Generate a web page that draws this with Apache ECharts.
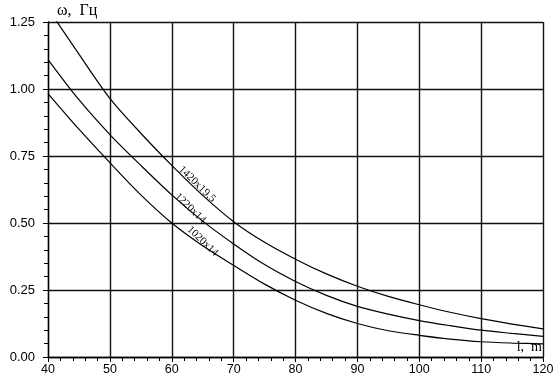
<!DOCTYPE html>
<html><head><meta charset="utf-8">
<script src="https://cdn.jsdelivr.net/npm/echarts@6/dist/echarts.min.js"></script>
<style>html,body{margin:0;padding:0;background:#fff}#c{width:558px;height:378px}</style>
</head><body><div id="c"></div>
<script>
const xTicks = [40, 50, 60, 70, 80, 90, 100, 110, 120];
const yTicks = [0, 0.25, 0.5, 0.75, 1.0, 1.25];
const names = ['1420x19,5', '1220x14', '1020x14'];
const xs = [40, 45, 50, 55, 60, 65, 70, 75, 80, 85, 90, 95, 100, 105, 110, 115, 120];
const ys1 = [1.30, 1.13, 0.965, 0.835, 0.715, 0.603, 0.505, 0.428, 0.365, 0.31, 0.264, 0.226, 0.195, 0.167, 0.143, 0.123, 0.105];
const ys2 = [1.11, 0.96, 0.83, 0.715, 0.605, 0.507, 0.422, 0.345, 0.282, 0.23, 0.189, 0.16, 0.136, 0.117, 0.100, 0.088, 0.077];
const ys3 = [0.983, 0.85, 0.725, 0.605, 0.50, 0.415, 0.342, 0.272, 0.212, 0.163, 0.125, 0.098, 0.081, 0.067, 0.057, 0.052, 0.049];
const labelPos = [[64.1, 0.645], [63.0, 0.555], [65.0, 0.432]];

const series = [ys1, ys2, ys3].map((ys, i) => ({
  type: 'line',
  smooth: 0.3,
  symbol: 'none',
  clip: true,
  data: xs.map((x, j) => [x, ys[j]]),
  lineStyle: { color: '#000', width: 1.2 },
  markPoint: {
    symbol: 'circle', symbolSize: 0,
    silent: true,
    data: [{ coord: labelPos[i], value: names[i] }],
    label: {
      show: true, formatter: names[i], rotate: -44,
      color: '#000', fontFamily: 'Liberation Serif', fontSize: 11,
      position: 'inside'
    }
  }
}));

const chart = echarts.init(document.getElementById('c'), null, { renderer: 'canvas' });
const axisCommon = {
  axisLine: { show: true, lineStyle: { color: '#000', width: 1.3 } },
  axisTick: { show: true, length: 5, lineStyle: { color: '#000', width: 1 } },
  minorTick: { show: true, splitNumber: 5, length: 4, lineStyle: { color: '#000', width: 1 } },
  splitLine: { show: true, lineStyle: { color: '#111', width: 1.4 } },
  axisLabel: { color: '#000', fontFamily: 'Liberation Sans', fontSize: 12.5 }
};
chart.setOption({
  animation: false,
  backgroundColor: '#fff',
  grid: { left: 48, right: 15, top: 22, bottom: 21 },
  xAxis: Object.assign({
    type: 'value', min: xTicks[0], max: xTicks[xTicks.length - 1], interval: 10,
  }, axisCommon, { axisLabel: Object.assign({}, axisCommon.axisLabel, { margin: 6 }) }),
  yAxis: Object.assign({
    type: 'value', min: yTicks[0], max: yTicks[yTicks.length - 1], interval: 0.25,
    name: 'ω,  Гц', nameLocation: 'end', nameGap: 3,
    nameTextStyle: { color: '#000', fontFamily: 'Liberation Serif', fontSize: 16, align: 'left', padding: [0, 0, 0, 9] }
  }, axisCommon, { axisLabel: Object.assign({}, axisCommon.axisLabel, { margin: 13, fontSize: 13, formatter: v => v.toFixed(2) }) }),
  graphic: [{
    type: 'text', right: 16, bottom: 24,
    style: { text: 'l,  m', fill: '#000', font: '14px "Liberation Serif"' }
  }],
  series: series
});
</script></body></html>
